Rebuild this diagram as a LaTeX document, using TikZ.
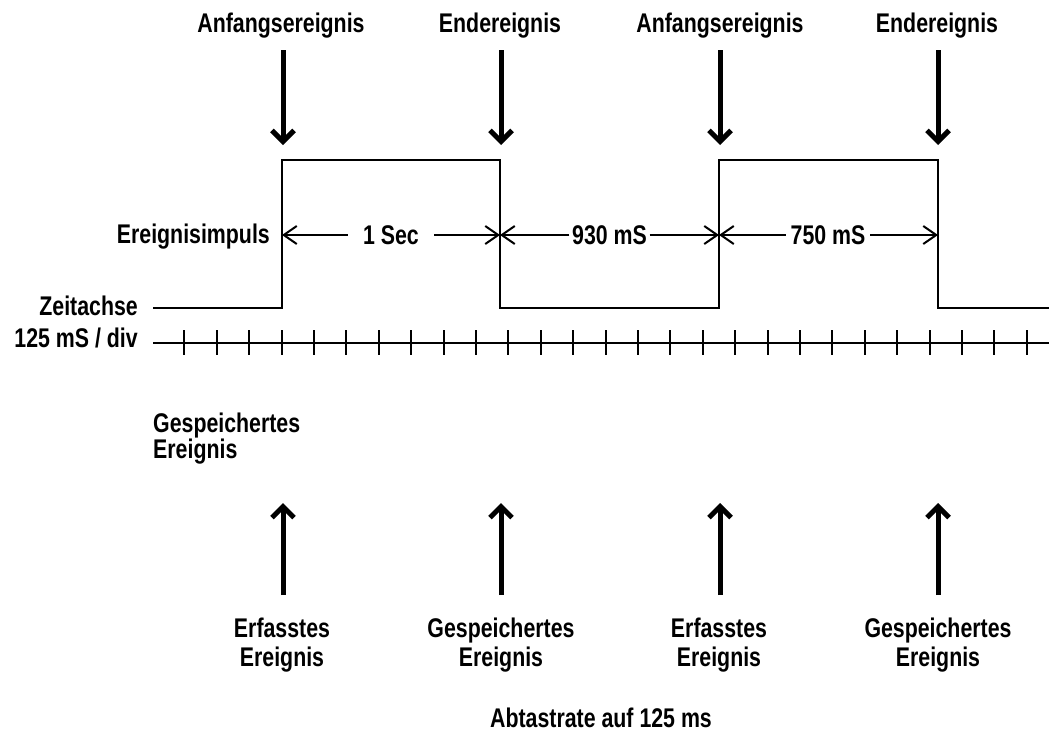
\documentclass[tikz,border=0pt]{standalone}
\usepackage{fontspec}
\setmainfont{Liberation Sans}[FakeStretch=0.79]
\usetikzlibrary{arrows.meta}
\tikzset{
  lbl/.style={font=\bfseries\fontsize{27}{29}\selectfont, inner sep=0pt},
  lbltwo/.style={lbl, align=center, anchor=north},
  dimtext/.style={lbl, text height=19.4pt, text depth=0pt, anchor=center},
  sig/.style={line width=2pt, line join=miter},
  evarrow/.style={line width=5pt, -{Straight Barb[length=11pt,width=22pt]}},
  dimarrow/.style={line width=2pt, -{Straight Barb[length=13pt,width=18pt]}},
}
\begin{document}
\begin{tikzpicture}[x=1pt,y=-1pt]
\useasboundingbox (0,0) rectangle (1049,734);
% top labels
\node[lbl, anchor=base] (a1) at (281,32) {Anfangsereignis};
\node[lbl, anchor=base] (e1) at (500,32) {Endereignis};
\node[lbl, anchor=base] (a2) at (720,32) {Anfangsereignis};
\node[lbl, anchor=base] (e2) at (937,32) {Endereignis};
% event arrows
\foreach \n/\x in {1/283,2/501,3/720,4/938}{
  \coordinate (ts\n) at (\x,50);
  \coordinate (tt\n) at (\x,145);
  \coordinate (bs\n) at (\x,595);
  \coordinate (bt\n) at (\x,503);
}
\foreach \n in {1,2,3,4}{
  \draw[evarrow] (ts\n) -- (tt\n);
  \draw[evarrow] (bs\n) -- (bt\n);
}
% pulse train
\draw[sig] (153,308) -- (282,308) -- (282,160) -- (500,160) -- (500,308)
  -- (719,308) -- (719,160) -- (938,160) -- (938,308) -- (1049,308);
% left labels
\node[lbl, anchor=base east] (imp) at (270,243) {Ereignisimpuls};
\node[lbl, anchor=base east] (zeit) at (138,315) {Zeitachse};
\node[lbl, anchor=base east] (div) at (138,347) {125 mS / div};
% dimension arrows
\coordinate (p1) at (282,235);
\coordinate (p2) at (500,235);
\coordinate (p3) at (719,235);
\coordinate (p4) at (938,235);
\node[dimtext, inner xsep=15pt] (d1) at (391,235) {1 Sec};
\node[dimtext, inner xsep=2.5pt] (d2) at (609.5,235) {930 mS};
\node[dimtext, inner xsep=4.5pt] (d3) at (828,235) {750 mS};
\draw[dimarrow] (d1.west) -- (p1);
\draw[dimarrow] (d1.east) -- (p2);
\draw[dimarrow] (d2.west) -- (p2);
\draw[dimarrow] (d2.east) -- (p3);
\draw[dimarrow] (d3.west) -- (p3);
\draw[dimarrow] (d3.east) -- (p4);
% time axis
\draw[sig] (153,343) -- (1049,343);
\foreach \k in {0,...,26}{
  \draw[sig] ({184.3+32.4*\k},330) -- ({184.3+32.4*\k},355);
}
% stored event label left
\node[lbl, align=left, anchor=north west, font=\bfseries\fontsize{27}{26}\selectfont] (gs) at (153,413) {Gespeichertes\\Ereignis};
% bottom labels
\node[lbltwo] (b1) at (282,618) {Erfasstes\\Ereignis};
\node[lbltwo] (b2) at (501,618) {Gespeichertes\\Ereignis};
\node[lbltwo] (b3) at (719,618) {Erfasstes\\Ereignis};
\node[lbltwo] (b4) at (938,618) {Gespeichertes\\Ereignis};
\node[lbl, anchor=base west] (abt) at (490,727) {Abtastrate auf 125 ms};
\end{tikzpicture}
\end{document}
